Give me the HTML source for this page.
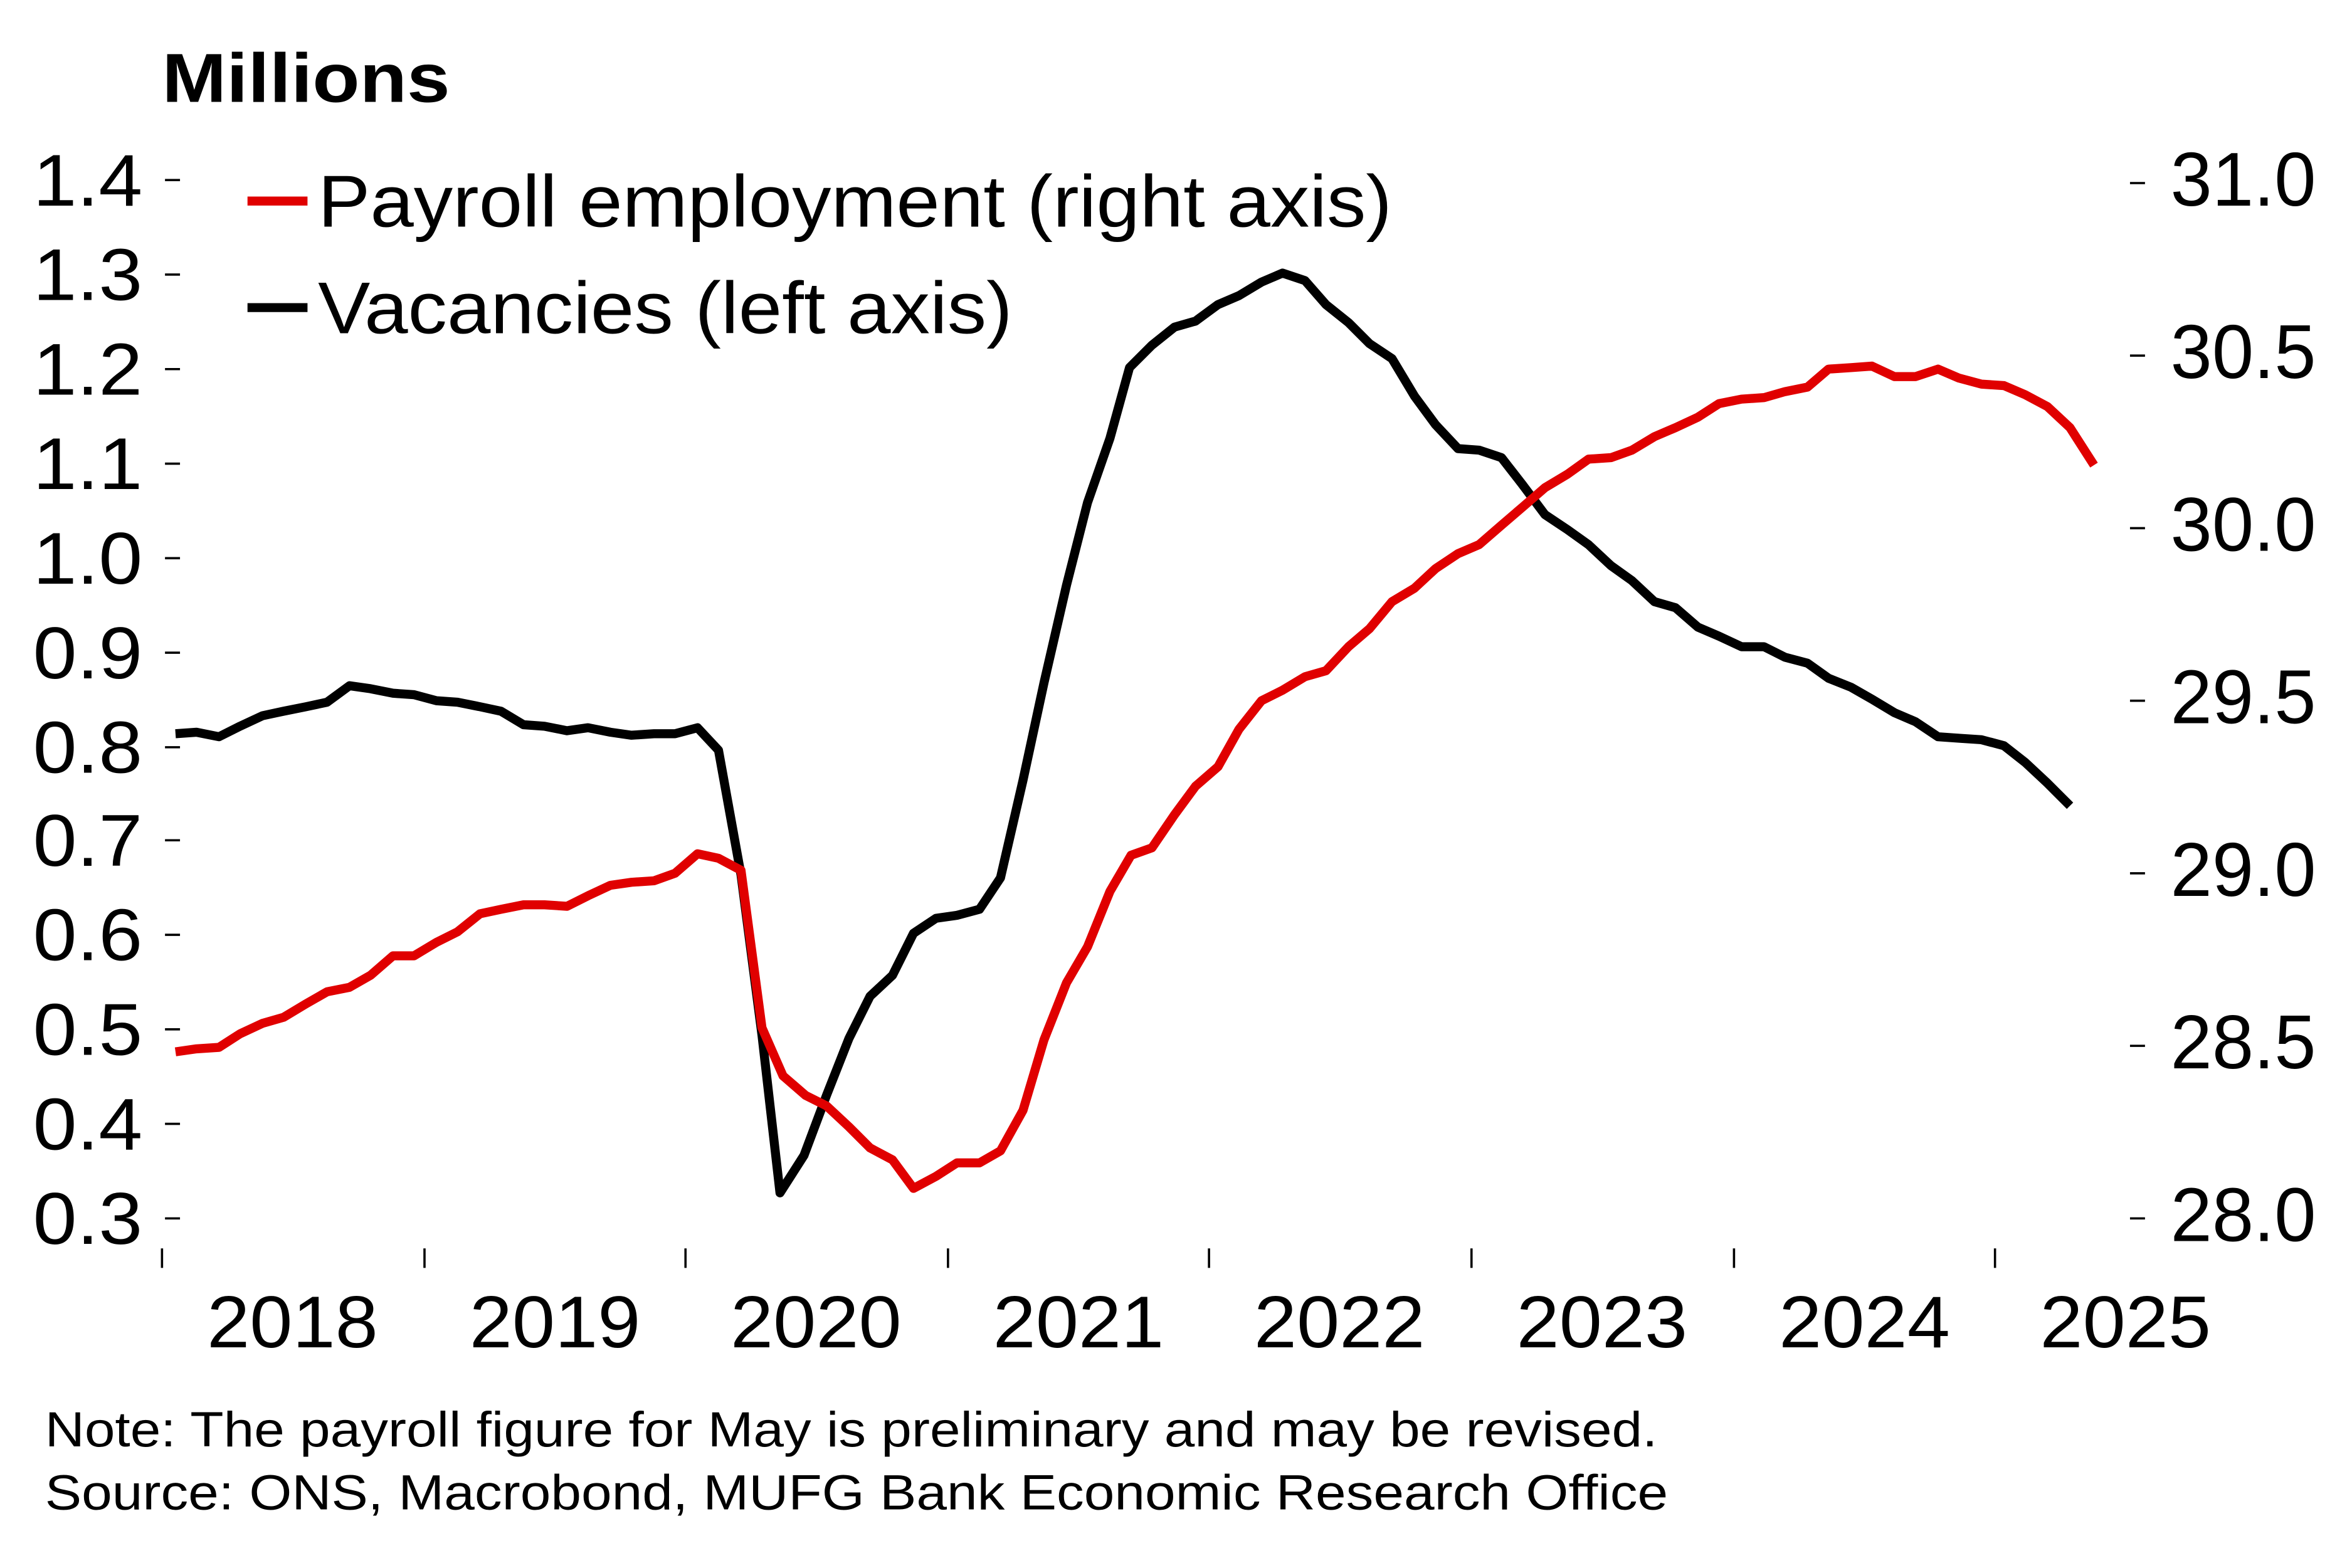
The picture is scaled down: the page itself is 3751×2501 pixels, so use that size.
<!DOCTYPE html>
<html><head><meta charset="utf-8"><style>
html,body{margin:0;padding:0;background:#fff;width:3751px;height:2501px;overflow:hidden}
svg{display:block}
text{font-family:"Liberation Sans",Arial,sans-serif;fill:#000}
</style></head><body>
<svg width="3751" height="2501" viewBox="0 0 1568 1045" preserveAspectRatio="none">
<text x="108" y="68" font-size="46" font-weight="bold" textLength="192" lengthAdjust="spacingAndGlyphs">Millions</text>
<g font-size="49">
<text x="22" y="137" textLength="73" lengthAdjust="spacingAndGlyphs">1.4</text><text x="22" y="200" textLength="73" lengthAdjust="spacingAndGlyphs">1.3</text><text x="22" y="263" textLength="73" lengthAdjust="spacingAndGlyphs">1.2</text><text x="22" y="326" textLength="73" lengthAdjust="spacingAndGlyphs">1.1</text><text x="22" y="389" textLength="73" lengthAdjust="spacingAndGlyphs">1.0</text><text x="22" y="452" textLength="73" lengthAdjust="spacingAndGlyphs">0.9</text><text x="22" y="515" textLength="73" lengthAdjust="spacingAndGlyphs">0.8</text><text x="22" y="577" textLength="73" lengthAdjust="spacingAndGlyphs">0.7</text><text x="22" y="640" textLength="73" lengthAdjust="spacingAndGlyphs">0.6</text><text x="22" y="703" textLength="73" lengthAdjust="spacingAndGlyphs">0.5</text><text x="22" y="766" textLength="73" lengthAdjust="spacingAndGlyphs">0.4</text><text x="22" y="829" textLength="73" lengthAdjust="spacingAndGlyphs">0.3</text>
</g>
<g stroke="#000" stroke-width="1.5">
<line x1="110" y1="120" x2="120" y2="120"/><line x1="110" y1="183" x2="120" y2="183"/><line x1="110" y1="246" x2="120" y2="246"/><line x1="110" y1="309" x2="120" y2="309"/><line x1="110" y1="372" x2="120" y2="372"/><line x1="110" y1="435" x2="120" y2="435"/><line x1="110" y1="498" x2="120" y2="498"/><line x1="110" y1="560" x2="120" y2="560"/><line x1="110" y1="623" x2="120" y2="623"/><line x1="110" y1="686" x2="120" y2="686"/><line x1="110" y1="749" x2="120" y2="749"/><line x1="110" y1="812" x2="120" y2="812"/>
<line x1="1420" y1="122" x2="1430" y2="122"/><line x1="1420" y1="237" x2="1430" y2="237"/><line x1="1420" y1="352" x2="1430" y2="352"/><line x1="1420" y1="467" x2="1430" y2="467"/><line x1="1420" y1="582" x2="1430" y2="582"/><line x1="1420" y1="697" x2="1430" y2="697"/><line x1="1420" y1="812" x2="1430" y2="812"/>
<line x1="108" y1="832" x2="108" y2="845"/><line x1="283" y1="832" x2="283" y2="845"/><line x1="457" y1="832" x2="457" y2="845"/><line x1="632" y1="832" x2="632" y2="845"/><line x1="806" y1="832" x2="806" y2="845"/><line x1="981" y1="832" x2="981" y2="845"/><line x1="1156" y1="832" x2="1156" y2="845"/><line x1="1330" y1="832" x2="1330" y2="845"/>
</g>
<g font-size="51">
<text x="1447" y="137" textLength="97" lengthAdjust="spacingAndGlyphs">31.0</text><text x="1447" y="252" textLength="97" lengthAdjust="spacingAndGlyphs">30.5</text><text x="1447" y="367" textLength="97" lengthAdjust="spacingAndGlyphs">30.0</text><text x="1447" y="482" textLength="97" lengthAdjust="spacingAndGlyphs">29.5</text><text x="1447" y="597" textLength="97" lengthAdjust="spacingAndGlyphs">29.0</text><text x="1447" y="712" textLength="97" lengthAdjust="spacingAndGlyphs">28.5</text><text x="1447" y="827" textLength="97" lengthAdjust="spacingAndGlyphs">28.0</text>
</g>
<g font-size="49">
<text x="138" y="898" textLength="114" lengthAdjust="spacingAndGlyphs">2018</text><text x="313" y="898" textLength="114" lengthAdjust="spacingAndGlyphs">2019</text><text x="487" y="898" textLength="114" lengthAdjust="spacingAndGlyphs">2020</text><text x="662" y="898" textLength="114" lengthAdjust="spacingAndGlyphs">2021</text><text x="836" y="898" textLength="114" lengthAdjust="spacingAndGlyphs">2022</text><text x="1011" y="898" textLength="114" lengthAdjust="spacingAndGlyphs">2023</text><text x="1186" y="898" textLength="114" lengthAdjust="spacingAndGlyphs">2024</text><text x="1360" y="898" textLength="114" lengthAdjust="spacingAndGlyphs">2025</text>
</g>
<polyline fill="none" stroke="#000" stroke-width="6" stroke-linejoin="round" points="117,489 131,488 146,491 160,484 175,477 189,474 204,471 218,468 233,457 247,459 262,462 276,463 291,467 305,468 320,471 334,474 349,483 363,484 378,487 392,485 407,488 421,490 436,489 450,489 465,485 479,500 494,583 508,690 520,795 536,770 551,730 566,692 580,664 595,650 609,622 624,612 638,610 653,606 667,585 682,520 696,455 711,390 725,335 740,292 753,245 768,230 783,218 797,214 812,203 826,197 841,188 855,182 870,187 884,203 899,215 913,229 928,239 943,264 957,283 972,299 986,300 1001,305 1015,323 1030,343 1045,353 1059,363 1074,377 1088,387 1103,401 1117,405 1132,418 1146,424 1161,431 1176,431 1190,438 1205,442 1219,452 1234,458 1248,466 1263,475 1277,481 1292,491 1306,492 1321,493 1336,497 1350,508 1365,522 1380,537"/>
<polyline fill="none" stroke="#e00000" stroke-width="6" stroke-linejoin="round" points="117,701 131,699 146,698 160,689 175,682 189,678 204,669 218,661 233,658 247,650 262,637 276,637 291,628 305,621 320,609 334,606 349,603 363,603 378,604 392,597 407,590 421,588 436,587 450,582 465,569 479,572 494,580 508,685 522,717 537,730 551,737 566,751 580,765 595,773 609,792 624,784 638,775 653,775 667,767 682,740 696,693 711,655 725,631 740,594 754,570 768,565 783,543 797,524 812,511 826,486 841,467 855,460 870,451 884,447 899,431 913,419 928,401 943,392 957,379 972,369 986,363 1001,350 1015,338 1030,325 1045,316 1059,306 1074,305 1088,300 1103,291 1117,285 1132,278 1146,269 1161,266 1176,265 1190,261 1205,258 1219,246 1234,245 1248,244 1263,251 1277,251 1292,246 1306,252 1321,256 1336,257 1350,263 1365,271 1380,285 1396,310"/>
<line x1="165" y1="134" x2="205" y2="134" stroke="#e00000" stroke-width="6"/>
<line x1="165" y1="205" x2="205" y2="205" stroke="#000" stroke-width="6"/>
<text x="212" y="151" font-size="49" textLength="716" lengthAdjust="spacingAndGlyphs">Payroll employment (right axis)</text>
<text x="212" y="222" font-size="49" textLength="463" lengthAdjust="spacingAndGlyphs">Vacancies (left axis)</text>
<text x="30" y="964" font-size="33" textLength="1075" lengthAdjust="spacingAndGlyphs">Note: The payroll figure for May is preliminary and may be revised.</text>
<text x="30" y="1006" font-size="33" textLength="1082" lengthAdjust="spacingAndGlyphs">Source: ONS, Macrobond, MUFG Bank Economic Research Office</text>
</svg>
</body></html>
